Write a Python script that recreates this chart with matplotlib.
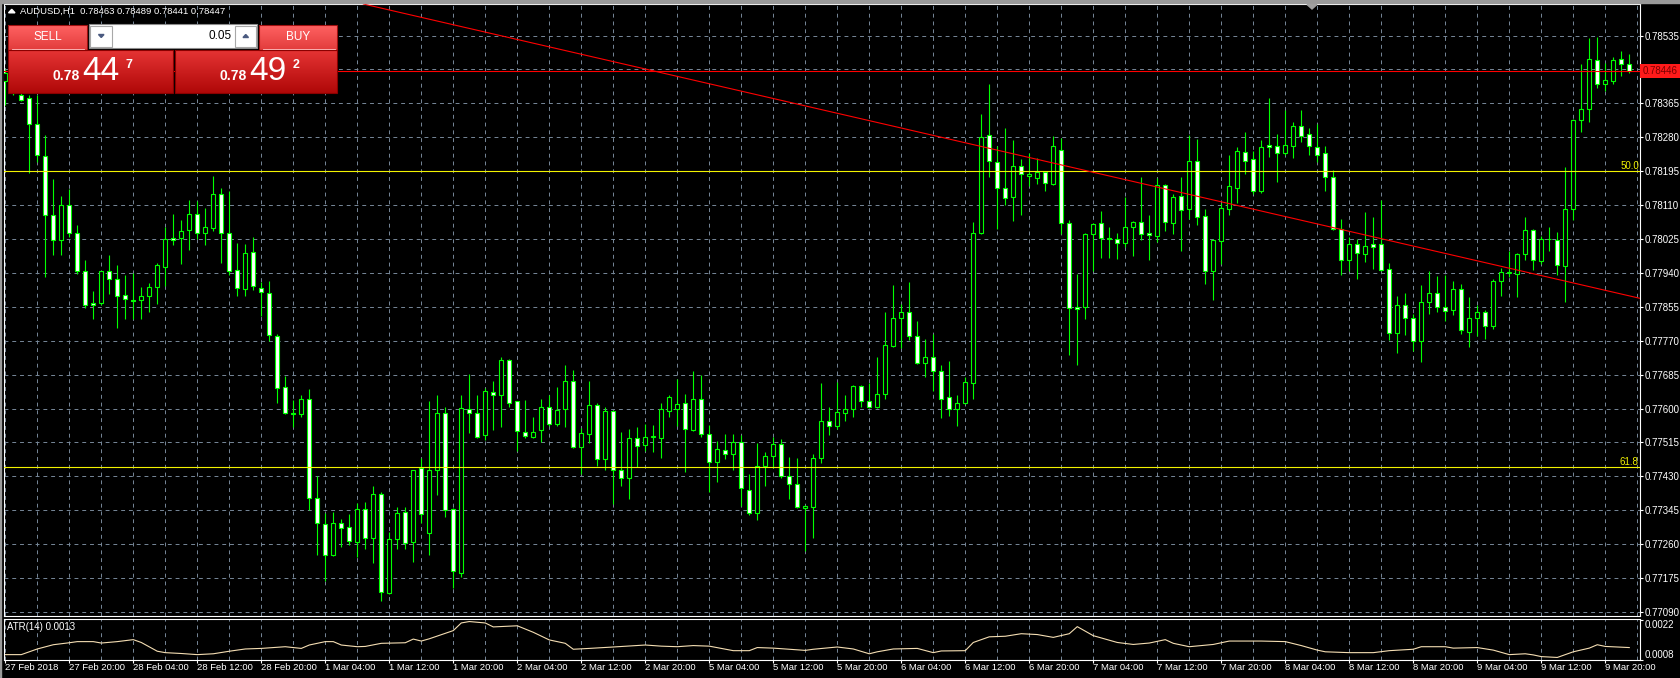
import numpy as np
import matplotlib.pyplot as plt
from matplotlib.patches import Rectangle, Polygon
from matplotlib.colors import LinearSegmentedColormap

plt.rcParams['font.family'] = ['Liberation Sans', 'DejaVu Sans']

# AUDUSD H1 candles, 27 Feb 12:00 .. 9 Mar 23:00, prices in points (1e-5)
opens_pts = [
    78420, 78440, 78386, 78378, 78312, 78232, 78086, 78023, 78110, 78040,
    77944, 77864, 77864, 77944, 77924, 77884, 77871, 77871, 77881, 77904,
    77956, 78028, 78027, 78047, 78087, 78040, 78053, 78137, 78041, 77948,
    77899, 77992, 77903, 77889, 77781, 77653, 77588, 77586, 77623, 77376,
    77311, 77232, 77314, 77302, 77265, 77348, 77276, 77387, 77138, 77273,
    77340, 77265, 77450, 77289, 77445, 77589, 77348, 77189, 77599, 77589,
    77534, 77641, 77635, 77722, 77618, 77542, 77529, 77546, 77605, 77561,
    77599, 77668, 77504, 77537, 77608, 77473, 77594, 77445, 77427, 77526,
    77508, 77528, 77527, 77595, 77599, 77613, 77547, 77625, 77536, 77465,
    77497, 77487, 77516, 77395, 77339, 77457, 77480, 77510, 77430, 77410,
    77350, 77354, 77475, 77568, 77556, 77589, 77599, 77656, 77618, 77603,
    77637, 77757, 77826, 77843, 77781, 77715, 77729, 77693, 77628, 77599,
    77613, 77663, 78041, 78285, 78218, 78154, 78129, 78208, 78182, 78178,
    78193, 78163, 78248, 78064, 77854, 77854, 78037, 78064, 78027, 78026,
    78014, 78056, 78067, 78040, 78033, 78160, 78066, 78133, 78099, 78221,
    78082, 77945, 78020, 78101, 78153, 78244, 78225, 78146, 78261, 78258,
    78240, 78258, 78307, 78287, 78255, 78240, 78180, 78049, 77972, 78012,
    77988, 78012, 78012, 77949, 77789, 77859, 77826, 77770, 77866, 77889,
    77854, 77846, 77899, 77792, 77826, 77843, 77806, 77919, 77939, 77937,
    77987, 78047, 77970, 78025, 78023, 77958, 78099, 78322, 78351, 78473,
    78413, 78421, 78476, 78463]
highs_pts = [
    78451, 78460, 78396, 78386, 78386, 78285, 78175, 78133, 78151, 78059,
    77972, 77895, 77946, 77985, 77960, 77935, 77940, 77905, 77915, 77966,
    78054, 78088, 78073, 78123, 78121, 78103, 78183, 78152, 78146, 78015,
    78012, 78030, 77916, 77919, 77787, 77681, 77621, 77635, 77648, 77430,
    77338, 77340, 77322, 77336, 77364, 77366, 77407, 77390, 77291, 77354,
    77354, 77447, 77477, 77618, 77633, 77603, 77351, 77633, 77687, 77633,
    77651, 77668, 77729, 77724, 77620, 77621, 77579, 77625, 77635, 77653,
    77708, 77696, 77552, 77668, 77613, 77605, 77596, 77541, 77549, 77554,
    77562, 77559, 77615, 77633, 77673, 77637, 77695, 77685, 77559, 77519,
    77536, 77536, 77534, 77435, 77514, 77492, 77529, 77524, 77479, 77477,
    77358, 77485, 77663, 77603, 77667, 77633, 77658, 77658, 77665, 77729,
    77841, 77910, 77861, 77918, 77819, 77775, 77787, 77708, 77719, 77633,
    77678, 78067, 78339, 78414, 78258, 78302, 78272, 78226, 78240, 78228,
    78195, 78282, 78277, 78073, 77937, 78039, 78064, 78094, 78054, 78041,
    78129, 78071, 78180, 78084, 78178, 78163, 78139, 78180, 78285, 78275,
    78099, 78025, 78114, 78236, 78256, 78293, 78245, 78273, 78378, 78287,
    78349, 78317, 78349, 78302, 78312, 78258, 78198, 78074, 78030, 78024,
    78092, 78080, 78122, 77965, 77881, 77889, 77836, 77909, 77946, 77933,
    77935, 77919, 77911, 77879, 77859, 77847, 77925, 77952, 77995, 77990,
    78079, 78051, 78032, 78054, 78042, 78206, 78326, 78463, 78530, 78532,
    78466, 78481, 78497, 78489]
lows_pts = [
    78362, 78385, 78372, 78190, 78218, 77930, 77985, 77985, 78030, 77937,
    77853, 77825, 77859, 77888, 77802, 77825, 77825, 77825, 77843, 77861,
    77906, 78010, 77962, 77998, 78025, 78010, 78044, 77966, 77934, 77883,
    77883, 77896, 77831, 77770, 77615, 77587, 77554, 77579, 77346, 77232,
    77167, 77230, 77252, 77257, 77227, 77247, 77212, 77118, 77136, 77247,
    77247, 77215, 77314, 77232, 77383, 77328, 77150, 77178, 77539, 77526,
    77522, 77547, 77554, 77603, 77494, 77526, 77527, 77516, 77556, 77556,
    77554, 77502, 77437, 77514, 77457, 77447, 77361, 77405, 77374, 77453,
    77494, 77492, 77475, 77579, 77556, 77440, 77544, 77529, 77390, 77417,
    77473, 77445, 77356, 77334, 77321, 77407, 77450, 77425, 77374, 77351,
    77242, 77276, 77463, 77534, 77549, 77569, 77579, 77605, 77601, 77601,
    77625, 77754, 77752, 77772, 77712, 77678, 77645, 77576, 77582, 77556,
    77611, 77623, 78037, 78180, 78051, 78111, 78069, 78086, 78158, 78163,
    78146, 78161, 78038, 77734, 77708, 77825, 77945, 77978, 77978, 77975,
    78005, 77983, 78022, 77973, 78018, 78044, 78038, 77995, 78074, 78061,
    77913, 77873, 77962, 78084, 78116, 78188, 78139, 78141, 78230, 78168,
    78236, 78228, 78267, 78236, 78218, 78145, 78047, 77935, 77945, 77924,
    77968, 77950, 77946, 77772, 77740, 77784, 77744, 77717, 77836, 77841,
    77819, 77834, 77787, 77755, 77782, 77775, 77800, 77881, 77930, 77879,
    77972, 77947, 77962, 77995, 77935, 77868, 78072, 78294, 78319, 78404,
    78396, 78414, 78434, 78441]
closes_pts = [
    78440, 78390, 78374, 78312, 78235, 78084, 78023, 78110, 78040, 77946,
    77859, 77859, 77944, 77925, 77881, 77874, 77870, 77882, 77905, 77959,
    78025, 78022, 78044, 78087, 78041, 78056, 78137, 78040, 77944, 77903,
    77989, 77908, 77891, 77784, 77651, 77589, 77586, 77623, 77376, 77313,
    77234, 77314, 77300, 77269, 77348, 77276, 77387, 77140, 77273, 77338,
    77262, 77445, 77336, 77445, 77589, 77346, 77192, 77601, 77589, 77529,
    77643, 77635, 77722, 77613, 77544, 77532, 77542, 77605, 77561, 77596,
    77668, 77504, 77539, 77608, 77473, 77594, 77447, 77425, 77526, 77506,
    77529, 77530, 77599, 77628, 77611, 77549, 77625, 77536, 77465, 77499,
    77485, 77516, 77400, 77339, 77457, 77482, 77510, 77430, 77410, 77353,
    77356, 77477, 77568, 77556, 77592, 77599, 77656, 77618, 77605, 77636,
    77759, 77826, 77843, 77782, 77715, 77729, 77693, 77625, 77599, 77613,
    77666, 78041, 78280, 78220, 78152, 78127, 78208, 78188, 78188, 78193,
    78166, 78258, 78066, 77851, 77849, 78037, 78062, 78027, 78025, 78015,
    78056, 78067, 78037, 78034, 78160, 78067, 78131, 78097, 78221, 78081,
    77945, 78022, 78102, 78158, 78246, 78220, 78146, 78256, 78255, 78240,
    78261, 78307, 78284, 78258, 78235, 78181, 78049, 77973, 78012, 77990,
    78008, 78006, 77948, 77789, 77859, 77826, 77770, 77866, 77889, 77855,
    77844, 77899, 77797, 77826, 77843, 77806, 77919, 77943, 77941, 77987,
    78047, 77972, 78025, 78024, 77960, 78099, 78324, 78351, 78476, 78413,
    78423, 78474, 78464, 78447]

# one label every 8 bars
time_labels = ['27 Feb 2018', '27 Feb 20:00', '28 Feb 04:00', '28 Feb 12:00', '28 Feb 20:00',
               '1 Mar 04:00', '1 Mar 12:00', '1 Mar 20:00', '2 Mar 04:00', '2 Mar 12:00',
               '2 Mar 20:00', '5 Mar 04:00', '5 Mar 12:00', '5 Mar 20:00', '6 Mar 04:00',
               '6 Mar 12:00', '6 Mar 20:00', '7 Mar 04:00', '7 Mar 12:00', '7 Mar 20:00',
               '8 Mar 04:00', '8 Mar 12:00', '8 Mar 20:00', '9 Mar 04:00', '9 Mar 12:00',
               '9 Mar 20:00']

price_ticks = [0.77090, 0.77175, 0.77260, 0.77345, 0.77430, 0.77515, 0.77600, 0.77685, 0.77770,
               0.77855, 0.77940, 0.78025, 0.78110, 0.78195, 0.78280, 0.78365, 0.78450, 0.78535]

bid_price = 0.78446
fib_labels = ['50.0', '61.8']
fib_prices = [0.78195, 0.77453]
trend_bars = [50.6, 179.3]
trend_prices = [0.78587, 0.77992]

atr_bars = [0, 2, 3, 4, 6, 8, 9, 11, 12, 14,
            16, 17, 19, 20, 22, 24, 26, 28, 30, 32,
            35, 37, 38, 40, 41, 42, 44, 45, 47, 50,
            51, 52, 53, 56, 57, 58, 60, 61, 64, 66,
            68, 70, 71, 73, 76, 80, 82, 84, 86, 88,
            91, 93, 94, 96, 100, 101, 104, 106, 108, 109,
            111, 114, 116, 117, 120, 121, 123, 125, 127, 129,
            131, 133, 134, 136, 139, 141, 143, 145, 146, 148,
            151, 153, 157, 160, 162, 164, 165, 168, 171, 173,
            176, 177, 180, 181, 184, 186, 188, 190, 191, 192,
            194, 196, 198, 199, 200, 203]
atr_pts = [99, 99, 109, 119, 134, 141, 145, 145, 140, 145,
           152, 142, 111, 106, 103, 99, 102, 111, 119, 121,
           127, 121, 133, 145, 145, 133, 127, 128, 139, 141,
           154, 147, 155, 184, 211, 216, 211, 197, 201, 178,
           151, 139, 118, 121, 126, 133, 129, 127, 131, 129,
           113, 113, 124, 122, 114, 118, 126, 119, 102, 109,
           119, 121, 106, 112, 113, 142, 162, 164, 173, 170,
           160, 173, 198, 166, 142, 135, 140, 152, 139, 127,
           135, 147, 147, 145, 131, 115, 109, 106, 106, 113,
           118, 127, 127, 122, 124, 115, 99, 102, 98, 92,
           89, 109, 122, 134, 128, 124]

W, H = 1681, 678
LIME = '#00ff00'
GRID = '#778899'
DASH = (0, (4, 4))

fig = plt.figure(figsize=(W / 100, H / 100), dpi=100, facecolor='black')


def px_axes(x0, y0, x1, y1, **kw):
    # axes placed in pixel coords measured from the top-left corner
    return fig.add_axes([x0 / W, 1 - y1 / H, (x1 - x0) / W, (y1 - y0) / H], **kw)


ax = px_axes(4, 4, 1640, 616)
atr_ax = px_axes(4, 619, 1640, 660)

for a in (ax, atr_ax):
    a.set_facecolor('black')
    for s in a.spines.values():
        s.set_color('white')
        s.set_linewidth(0.8)
    a.set_xlim(-0.16, 204.34)
    a.set_xticks(range(0, 205, 4), minor=True)
    a.set_xticks(range(0, 204, 8))
    a.grid(True, which='both', axis='x', color=GRID, ls=DASH, lw=0.7)
    a.set_axisbelow(True)
    a.yaxis.tick_right()
    a.tick_params(axis='y', colors='white', length=2, width=0.8, labelsize=7, pad=1.5)
    a.tick_params(axis='x', which='minor', length=0)

# --- price pane ---
o = np.array(opens_pts) / 1e5
h = np.array(highs_pts) / 1e5
l = np.array(lows_pts) / 1e5
c = np.array(closes_pts) / 1e5
x = np.arange(len(o))
bull = c >= o

ax.vlines(x, l, h, color=LIME, lw=0.8, zorder=2)
ax.bar(x, np.abs(c - o), bottom=np.minimum(o, c), width=0.55,
       color=np.where(bull, 'black', 'white'), edgecolor=LIME, linewidth=0.8, zorder=3)

ax.set_ylim(0.77080, 0.78614)
ax.set_yticks(price_ticks, labels=['' if abs(p - 0.78450) < 1e-7 else f'{p:.5f}' for p in price_ticks])
ax.grid(True, axis='y', color=GRID, ls=DASH, lw=0.7)
ax.tick_params(axis='x', which='major', length=0, labelbottom=False)

ax.axhline(bid_price, color='#ff0000', lw=0.8, zorder=4)
for lab, lvl in zip(fib_labels, fib_prices):
    ax.axhline(lvl, color='#f2f200', lw=0.8, zorder=4)
    ax.text(0.9993, lvl, lab, transform=ax.get_yaxis_transform(), ha='right', va='bottom',
            color='#f2f200', fontsize=7, zorder=5)
ax.axline((trend_bars[0], trend_prices[0]), (trend_bars[1], trend_prices[1]),
          color='#ff0000', lw=0.8, zorder=4)

ax.text(1.0015, bid_price, f'{bid_price:.5f}', transform=ax.get_yaxis_transform(),
        ha='left', va='center', fontsize=7, color='#7a0000', clip_on=False, zorder=6,
        bbox=dict(boxstyle='square,pad=0.22', fc='#ff1a1a', ec='none'))

# --- ATR pane ---
atr_ax.plot(atr_bars, np.array(atr_pts) / 1e5, color='#f5deb3', lw=0.8)
atr_ax.set_ylim(0.00080, 0.00225)
atr_ax.set_yticks([0.0008, 0.0022], labels=['0.0008', '0.0022'])
ylabs = atr_ax.get_yticklabels()
ylabs[0].set_va('bottom')
ylabs[1].set_va('top')
atr_ax.text(0.002, 0.8, 'ATR(14) 0.0013', transform=atr_ax.transAxes,
            color='white', fontsize=7, va='center')

atr_ax.set_xticks(range(0, 204, 8), labels=time_labels)
atr_ax.tick_params(axis='x', which='major', colors='white', length=2, width=0.8,
                   labelsize=6.8, pad=0)
for lab in atr_ax.get_xticklabels():
    lab.set_ha('left')

# --- overlay: window border, header, one-click trading panel ---
ov = fig.add_axes([0, 0, 1, 1], zorder=10)
ov.axis('off')


def gbox(x0, y0, x1, y1, top, bot, edge):
    cm = LinearSegmentedColormap.from_list('g', [top, bot])
    ov.imshow(np.linspace(0, 1, 50)[:, None], cmap=cm, extent=(x0, x1, y1, y0),
              aspect='auto', interpolation='bilinear', zorder=1)
    ov.add_patch(Rectangle((x0, y0), x1 - x0, y1 - y0, fill=False, ec=edge, lw=0.8, zorder=2))


ov.add_patch(Rectangle((0, 0), W, 2.5, color='#9a9a9a'))
ov.add_patch(Rectangle((0, 0), 1.5, H, color='#9a9a9a'))
ov.add_patch(Polygon([(1307, 4.5), (1317, 4.5), (1312, 9)], color='#a0a0a0'))

ov.add_patch(Polygon([(8.5, 12.8), (15, 12.8), (11.75, 9.3)], color='white'))
ov.text(20.5, 11, 'AUDUSD,H1  0.78463 0.78489 0.78441 0.78447', fontsize=6.8,
        color='white', va='center')

gbox(8, 25, 87, 50, '#ff6262', '#e23c3c', '#a01010')
gbox(259, 25, 337, 50, '#ff6262', '#e23c3c', '#a01010')
gbox(8, 50, 173, 93, '#e53434', '#b00808', '#8a0000')
gbox(175, 50, 337, 93, '#e53434', '#b00808', '#8a0000')
ov.text(47.5, 36.5, 'SELL', ha='center', va='center', fontsize=8.5, color='white')
ov.text(298, 36.5, 'BUY', ha='center', va='center', fontsize=8.5, color='white')
ov.plot([12, 84], [49.3, 49.3], color='#ffc4c4', lw=0.6)
ov.plot([263, 335], [49.3, 49.3], color='#ffc4c4', lw=0.6)

ov.add_patch(Rectangle((89, 24), 168, 24, fc='white', ec='#8c8c8c', lw=0.8, zorder=2))
gbox(90.5, 25.5, 112, 47, '#f2f2f2', '#cdcdcd', '#a8a8a8')
gbox(235.5, 25.5, 256, 47, '#f2f2f2', '#cdcdcd', '#a8a8a8')
ov.add_patch(Polygon([(98.5, 34.5), (104, 34.5), (101.25, 37.5)], color='#4a5a80', zorder=3))
ov.add_patch(Polygon([(243, 37.5), (248.5, 37.5), (245.75, 34.5)], color='#4a5a80', zorder=3))
ov.text(232, 36, '0.05', ha='right', va='center', fontsize=8.5, color='black', zorder=3)

for x_small, x_big, big, sup in [(80, 82.5, '44', '7'), (246.5, 249.5, '49', '2')]:
    ov.text(x_small, 80, '0.78', ha='right', va='baseline', fontsize=10,
            fontweight='bold', color='white', zorder=3)
    ov.text(x_big, 80, big, ha='left', va='baseline', fontsize=24, color='white', zorder=3)
    ov.text(x_big + 43, 59, sup, ha='left', va='top', fontsize=9,
            fontweight='bold', color='white', zorder=3)

ov.set_xlim(0, W)
ov.set_ylim(H, 0)

fig.savefig('out.png', dpi=100, facecolor='black')
